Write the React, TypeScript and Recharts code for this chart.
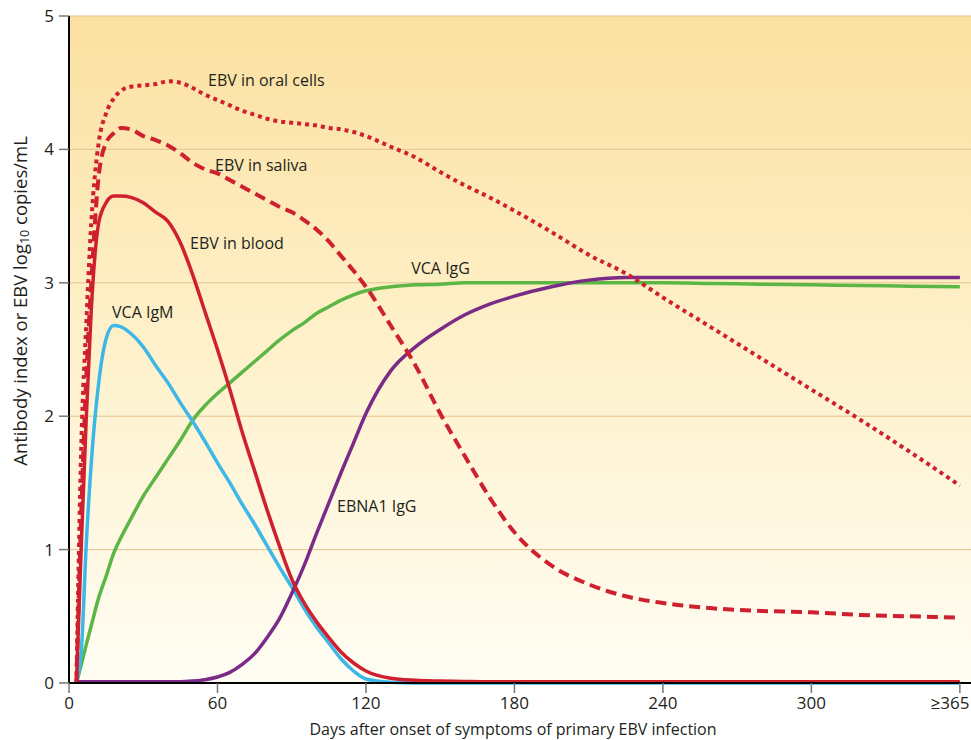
import React from 'react';
import { LineChart, Line, XAxis, YAxis, CartesianGrid, ReferenceDot } from 'recharts';

// days after onset of symptoms (360 is shown as ≥365)
const days = [3, 5, 7, 9, 12, 15, 18, 21, 25, 30, 35, 40, 45, 50, 55, 60, 65, 70, 75, 80, 85, 90, 95, 100, 105, 110, 115, 120, 130, 140, 150, 160, 170, 180, 195, 210, 225, 240, 260, 280, 300, 320, 340, 360];

const ebvOralCells = [0, 1.8, 2.7, 3.45, 4.05, 4.27, 4.38, 4.44, 4.47, 4.48, 4.49, 4.51, 4.5, 4.46, 4.41, 4.37, 4.33, 4.29, 4.26, 4.23, 4.21, 4.2, 4.19, 4.18, 4.16, 4.15, 4.13, 4.1, 4.02, 3.94, 3.83, 3.73, 3.64, 3.54, 3.38, 3.21, 3.07, 2.89, 2.66, 2.43, 2.2, 1.97, 1.73, 1.48];
const ebvSaliva = [0, 1.3, 2.3, 3.0, 3.8, 4.05, 4.12, 4.16, 4.15, 4.1, 4.07, 4.03, 3.97, 3.9, 3.85, 3.82, 3.77, 3.72, 3.67, 3.62, 3.57, 3.53, 3.47, 3.4, 3.31, 3.2, 3.09, 2.97, 2.68, 2.38, 2.02, 1.7, 1.39, 1.13, 0.88, 0.74, 0.65, 0.6, 0.56, 0.54, 0.53, 0.51, 0.5, 0.49];
const ebvBlood = [0, 1.05, 2.0, 2.8, 3.45, 3.6, 3.65, 3.65, 3.64, 3.6, 3.53, 3.46, 3.3, 3.06, 2.78, 2.5, 2.2, 1.88, 1.59, 1.3, 1.03, 0.78, 0.6, 0.46, 0.34, 0.23, 0.15, 0.09, 0.035, 0.02, 0.015, 0.012, 0.01, 0.01, 0.01, 0.01, 0.01, 0.01, 0.01, 0.01, 0.01, 0.01, 0.01, 0.01];
const vcaIgM = [0, 0.25, 1.05, 1.65, 2.25, 2.58, 2.68, 2.67, 2.62, 2.52, 2.38, 2.25, 2.1, 1.96, 1.81, 1.65, 1.5, 1.34, 1.19, 1.03, 0.87, 0.72, 0.56, 0.42, 0.3, 0.18, 0.09, 0.03, 0.005, 0, 0, 0, 0, 0, 0, 0, 0, 0, 0, 0, 0, 0, 0, 0];
const vcaIgG = [0, 0.14, 0.29, 0.43, 0.64, 0.8, 0.97, 1.09, 1.23, 1.4, 1.54, 1.68, 1.82, 1.97, 2.08, 2.17, 2.25, 2.33, 2.41, 2.49, 2.57, 2.64, 2.7, 2.77, 2.82, 2.87, 2.91, 2.94, 2.97, 2.985, 2.99, 3.0, 3.0, 3.0, 3.0, 3.0, 3.0, 3.0, 2.995, 2.99, 2.985, 2.98, 2.975, 2.97];
const ebna1IgG = [0.01, 0.01, 0.01, 0.01, 0.01, 0.01, 0.01, 0.01, 0.01, 0.01, 0.01, 0.01, 0.01, 0.015, 0.025, 0.045, 0.08, 0.14, 0.22, 0.34, 0.48, 0.67, 0.88, 1.12, 1.35, 1.58, 1.8, 2.02, 2.34, 2.52, 2.65, 2.76, 2.84, 2.9, 2.97, 3.02, 3.04, 3.04, 3.04, 3.04, 3.04, 3.04, 3.04, 3.04];

const xTicks = [0, 60, 120, 180, 240, 300, 360];
const yTicks = [0, 1, 2, 3, 4, 5];

// curve labels, anchored at (day, value)
const curveLabels = [
  { text: 'EBV in oral cells', day: 56.2, value: 4.52 },
  { text: 'EBV in saliva', day: 59, value: 3.88 },
  { text: 'EBV in blood', day: 48.9, value: 3.3 },
  { text: 'VCA IgG', day: 138.3, value: 3.11 },
  { text: 'VCA IgM', day: 17.4, value: 2.78 },
  { text: 'EBNA1 IgG', day: 108.3, value: 1.33 },
];

const rows = days.map((d, i) => ({
  day: d,
  oral: ebvOralCells[i],
  saliva: ebvSaliva[i],
  blood: ebvBlood[i],
  igm: vcaIgM[i],
  igg: vcaIgG[i],
  ebna: ebna1IgG[i],
}));

const FONT = '"Open Sans", sans-serif';
const TEXT = '#231f20';
const RED = '#cf2030';

const YTitle = ({ viewBox }: any) => {
  const cx = 19;
  const cy = viewBox.y + 285;
  return (
    <text x={cx} y={cy} transform={`rotate(-90, ${cx}, ${cy})`} textAnchor="middle" dominantBaseline="central" fontSize={18.5} fill={TEXT} fontFamily={FONT}>
      <tspan>Antibody index or EBV log</tspan>
      <tspan dy={5} fontSize={12.5}>10</tspan>
      <tspan dy={-5}> copies/mL</tspan>
    </text>
  );
};

const XTitle = ({ viewBox }: any) => (
  <text x={viewBox.x + 444} y={viewBox.y + 46} textAnchor="middle" dominantBaseline="central" fontSize={16} fill={TEXT} fontFamily={FONT}>
    Days after onset of symptoms of primary EBV infection
  </text>
);

const DayTick = ({ x, y, payload }: any) => {
  const last = payload.value === 360;
  return (
    <text x={last ? x - 9 : x} y={y} dy="0.71em" textAnchor="middle" fontSize={17} fill={TEXT} fontFamily={FONT}>
      {last ? '≥365' : payload.value}
    </text>
  );
};

export default function App() {
  return (
    <div style={{ position: 'absolute', left: 0, top: 0, background: '#fff' }}>
      <LineChart width={971} height={740} data={rows} margin={{ top: 16, right: 0, bottom: 0, left: 0 }} style={{ fontFamily: FONT }}>
        <defs>
          <linearGradient id="bgGrad" x1="0" y1="0" x2="0" y2="1">
            <stop offset="0%" stopColor="#fbe0a0" />
            <stop offset="50%" stopColor="#fef1cb" />
            <stop offset="100%" stopColor="#fffdf4" />
          </linearGradient>
        </defs>
        <CartesianGrid vertical={false} stroke="#e4c38f" strokeWidth={1} fill="url(#bgGrad)" fillOpacity={1} />
        <XAxis
          dataKey="day"
          type="number"
          domain={[0, 364.5]}
          ticks={xTicks}
          height={57}
          axisLine={{ stroke: '#000', strokeWidth: 2 }}
          tickLine={{ stroke: '#777', strokeWidth: 1.5 }}
          tickSize={10}
          tickMargin={4}
          tick={<DayTick />}
          label={<XTitle />}
        />
        <YAxis
          type="number"
          domain={[0, 5]}
          ticks={yTicks}
          width={69}
          axisLine={{ stroke: '#000', strokeWidth: 2 }}
          tickLine={{ stroke: '#777', strokeWidth: 1.5 }}
          tickSize={10}
          tickMargin={5}
          tick={{ fill: TEXT, fontSize: 17 }}
          label={<YTitle />}
        />
        <Line type="monotone" dataKey="igg" stroke="#5cb646" strokeWidth={3.5} dot={false} isAnimationActive={false} />
        <Line type="monotone" dataKey="igm" stroke="#3db6e8" strokeWidth={3.5} dot={false} isAnimationActive={false} />
        <Line type="monotone" dataKey="ebna" stroke="#7a2a87" strokeWidth={3.5} dot={false} isAnimationActive={false} />
        <Line type="monotone" dataKey="blood" stroke={RED} strokeWidth={3.5} dot={false} isAnimationActive={false} />
        <Line type="monotone" dataKey="saliva" stroke={RED} strokeWidth={4} strokeDasharray="11 6" dot={false} isAnimationActive={false} />
        <Line type="monotone" dataKey="oral" stroke={RED} strokeWidth={4} strokeDasharray="4 4" dot={false} isAnimationActive={false} />
        {curveLabels.map((l) => (
          <ReferenceDot
            key={l.text}
            x={l.day}
            y={l.value}
            r={0}
            shape={(p: any) => (
              <text x={p.cx} y={p.cy} dominantBaseline="central" fontSize={16} fill={TEXT} fontFamily={FONT}>
                {l.text}
              </text>
            )}
          />
        ))}
      </LineChart>
    </div>
  );
}
